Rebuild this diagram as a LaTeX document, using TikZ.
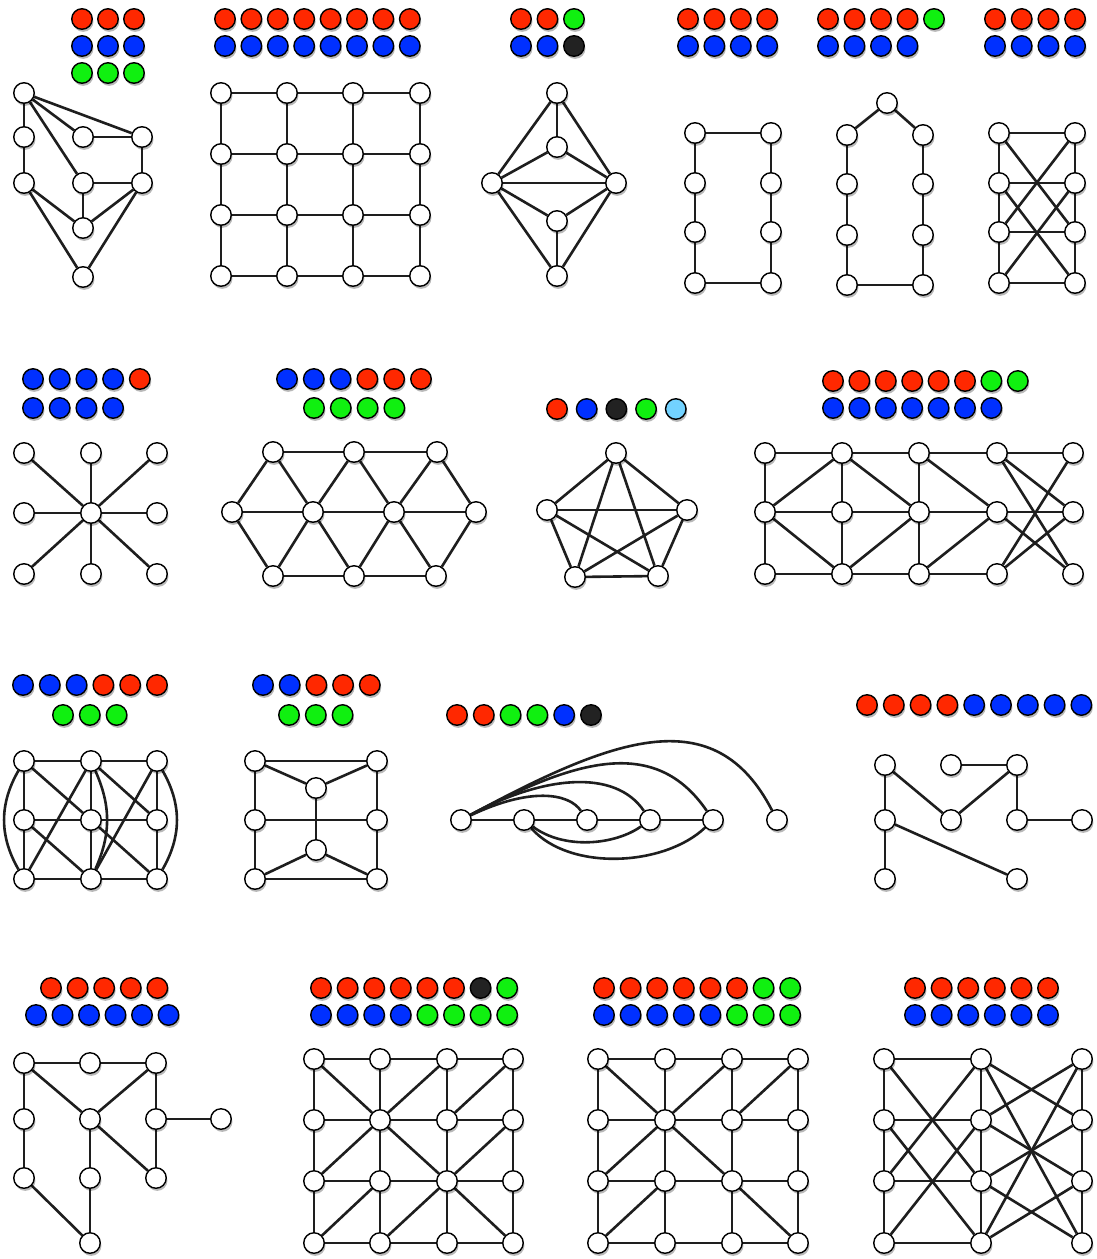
\documentclass[tikz,border=0pt]{standalone}
\usetikzlibrary{shadows,backgrounds}
\definecolor{dred}{HTML}{FF2800}
\definecolor{dblue}{HTML}{0030FF}
\definecolor{dgreen}{HTML}{10F010}
\definecolor{dblack}{HTML}{222222}
\definecolor{dcyan}{HTML}{72D2FF}
\definecolor{lncol}{HTML}{1E1E1E}
\tikzset{
  vtx/.style={circle, draw=black, line width=1.4pt, fill=white, minimum size=20.5pt, inner sep=0pt,
    drop shadow={shadow xshift=1.2pt, shadow yshift=-2.6pt, opacity=0.28, fill=black}},
  cdot/.style={vtx, fill=#1},
  ln/.style={line width=2.6pt, draw=lncol},
}
\newcommand\dotrow[5]{\foreach \c [count=\i from 0] in {#5} \node[cdot=\c] (#1\i) at ({#2+#3*\i},#4) {};}
\begin{document}
\begin{tikzpicture}[x=1pt,y=-1pt]
\useasboundingbox (0,0) rectangle (1096,1259);

% ---------------- G1
\dotrow{A1d}{82}{26}{19}{dred,dred,dred}
\dotrow{A2d}{82}{26}{46}{dblue,dblue,dblue}
\dotrow{A3d}{82}{26}{73}{dgreen,dgreen,dgreen}
\node[vtx] (A1) at (24,93) {};
\node[vtx] (A2) at (24,137) {};
\node[vtx] (A3) at (24,183) {};
\node[vtx] (A4) at (83,137) {};
\node[vtx] (A5) at (142,137) {};
\node[vtx] (A6) at (83,183) {};
\node[vtx] (A7) at (142,183) {};
\node[vtx] (A8) at (83,228) {};
\node[vtx] (A9) at (83,277) {};
\begin{scope}[on background layer]
\foreach \a/\b in {A1/A2,A2/A3,A1/A5,A1/A4,A1/A6,A4/A5,A6/A7,A5/A7,A6/A8,A3/A8,A3/A9,A7/A8,A7/A9}
  \draw[ln] (\a) -- (\b);
\end{scope}

% ---------------- G2 grid
\dotrow{B1d}{225}{26.4}{19}{dred,dred,dred,dred,dred,dred,dred,dred}
\dotrow{B2d}{225}{26.4}{46}{dblue,dblue,dblue,dblue,dblue,dblue,dblue,dblue}
\foreach \c/\x in {1/221,2/287,3/353,4/420}
  \foreach \r/\y in {1/93,2/154,3/215,4/276}
    \node[vtx] (B\r\c) at (\x,\y) {};
\begin{scope}[on background layer]
\foreach \r in {1,2,3,4}
  \foreach \c/\d in {1/2,2/3,3/4} {
    \draw[ln] (B\r\c) -- (B\r\d);
    \draw[ln] (B\c\r) -- (B\d\r);
  }
\end{scope}

% ---------------- G3
\dotrow{C1d}{521}{26.5}{19}{dred,dred,dgreen}
\dotrow{C2d}{521}{26.5}{46}{dblue,dblue,dblack}
\node[vtx] (CT) at (557,93) {};
\node[vtx] (CU) at (557,147) {};
\node[vtx] (CL) at (492,183) {};
\node[vtx] (CR) at (616,183) {};
\node[vtx] (CM) at (557,221) {};
\node[vtx] (CB) at (557,276) {};
\begin{scope}[on background layer]
\foreach \a/\b in {CT/CU,CT/CL,CT/CR,CU/CL,CU/CR,CL/CR,CL/CM,CR/CM,CM/CB,CL/CB,CR/CB}
  \draw[ln] (\a) -- (\b);
\end{scope}

% ---------------- G4
\dotrow{D1d}{688}{26.4}{19}{dred,dred,dred,dred}
\dotrow{D2d}{688}{26.4}{46}{dblue,dblue,dblue,dblue}
\foreach \r/\y in {1/133,2/183,3/232,4/283} {
  \node[vtx] (DL\r) at (695,\y) {};
  \node[vtx] (DR\r) at (771,\y) {};
}
\begin{scope}[on background layer]
\foreach \a/\b in {DL1/DL2,DL2/DL3,DL3/DL4,DL4/DR4,DR4/DR3,DR3/DR2,DR2/DR1,DR1/DL1}
  \draw[ln] (\a) -- (\b);
\end{scope}

% ---------------- G5
\dotrow{E1d}{828}{26.5}{19}{dred,dred,dred,dred,dgreen}
\dotrow{E2d}{828}{26.5}{46}{dblue,dblue,dblue,dblue}
\node[vtx] (EA) at (887,103) {};
\foreach \r/\y in {1/135,2/184,3/235,4/285} {
  \node[vtx] (EL\r) at (847,\y) {};
  \node[vtx] (ER\r) at (923,\y) {};
}
\begin{scope}[on background layer]
\foreach \a/\b in {EA/EL1,EA/ER1,EL1/EL2,EL2/EL3,EL3/EL4,EL4/ER4,ER4/ER3,ER3/ER2,ER2/ER1}
  \draw[ln] (\a) -- (\b);
\end{scope}

% ---------------- G6
\dotrow{F1d}{995}{26.7}{19}{dred,dred,dred,dred}
\dotrow{F2d}{995}{26.7}{46}{dblue,dblue,dblue,dblue}
\foreach \r/\y in {1/133,2/183,3/232,4/283} {
  \node[vtx] (FL\r) at (999,\y) {};
  \node[vtx] (FR\r) at (1075,\y) {};
}
\begin{scope}[on background layer]
\foreach \a/\b in {FL1/FR1,FL2/FR2,FL3/FR3,FL4/FR4,FL1/FL2,FL2/FL3,FL3/FL4,FR1/FR2,FR2/FR3,FR3/FR4,FL1/FR3,FR1/FL3,FL2/FR4,FR2/FL4}
  \draw[ln] (\a) -- (\b);
\end{scope}

% ---------------- G7 star
\dotrow{G1d}{33}{26.7}{379}{dblue,dblue,dblue,dblue,dred}
\dotrow{G2d}{33}{26.7}{408}{dblue,dblue,dblue,dblue}
\node[vtx] (G0) at (91,513) {};
\node[vtx] (G1) at (24,453) {};
\node[vtx] (G2) at (91,453) {};
\node[vtx] (G3) at (157,453) {};
\node[vtx] (G4) at (24,513) {};
\node[vtx] (G5) at (157,513) {};
\node[vtx] (G6) at (24,574) {};
\node[vtx] (G7) at (91,574) {};
\node[vtx] (G8) at (157,574) {};
\begin{scope}[on background layer]
\foreach \b in {G1,G2,G3,G4,G5,G6,G7,G8}
  \draw[ln] (G0) -- (\b);
\end{scope}

% ---------------- G8 triangular
\dotrow{H1d}{287}{26.8}{379}{dblue,dblue,dblue,dred,dred,dred}
\dotrow{H2d}{314}{26.8}{408}{dgreen,dgreen,dgreen,dgreen}
\node[vtx] (Ht1) at (273,452) {};
\node[vtx] (Ht2) at (354,452) {};
\node[vtx] (Ht3) at (437,452) {};
\node[vtx] (Hm1) at (232,512) {};
\node[vtx] (Hm2) at (313,512) {};
\node[vtx] (Hm3) at (394,512) {};
\node[vtx] (Hm4) at (476,512) {};
\node[vtx] (Hb1) at (273,576) {};
\node[vtx] (Hb2) at (354,576) {};
\node[vtx] (Hb3) at (436,576) {};
\begin{scope}[on background layer]
\foreach \a/\b in {Ht1/Ht2,Ht2/Ht3,Hm1/Hm2,Hm2/Hm3,Hm3/Hm4,Hb1/Hb2,Hb2/Hb3,Hm1/Ht1,Hm1/Hb1,Ht1/Hm2,Ht2/Hm2,Ht2/Hm3,Ht3/Hm3,Ht3/Hm4,Hb1/Hm2,Hb2/Hm2,Hb2/Hm3,Hb3/Hm3,Hb3/Hm4}
  \draw[ln] (\a) -- (\b);
\end{scope}

% ---------------- G9 K5
\dotrow{K1d}{557}{29.7}{409}{dred,dblue,dblack,dgreen,dcyan}
\node[vtx] (K1) at (616,453) {};
\node[vtx] (K2) at (547,510) {};
\node[vtx] (K3) at (687,510) {};
\node[vtx] (K4) at (575,577) {};
\node[vtx] (K5) at (658,576) {};
\begin{scope}[on background layer]
\foreach \a/\b in {K1/K2,K1/K3,K1/K4,K1/K5,K2/K3,K2/K4,K2/K5,K3/K4,K3/K5,K4/K5}
  \draw[ln] (\a) -- (\b);
\end{scope}

% ---------------- G10
\dotrow{M1d}{833}{26.4}{381}{dred,dred,dred,dred,dred,dred,dgreen,dgreen}
\dotrow{M2d}{833}{26.4}{408}{dblue,dblue,dblue,dblue,dblue,dblue,dblue}
\foreach \c/\x in {1/765,2/842,3/919,4/997,5/1073} {
  \node[vtx] (Ma\c) at (\x,453) {};
  \node[vtx] (Mb\c) at (\x,512) {};
  \node[vtx] (Mc\c) at (\x,574) {};
}
\begin{scope}[on background layer]
\foreach \a/\b in {Ma1/Ma2,Ma2/Ma3,Ma3/Ma4,Ma4/Ma5,Mb1/Mb2,Mb2/Mb3,Mb3/Mb4,Mb4/Mb5,Mc1/Mc2,Mc2/Mc3,Mc3/Mc4,Ma1/Mb1,Mb1/Mc1,Ma2/Mb2,Mb2/Mc2,Ma3/Mb3,Mb3/Mc3,Mb1/Ma2,Mb1/Mc2,Ma2/Mb3,Mc2/Mb3,Ma3/Mb4,Mc3/Mb4,Ma4/Mb5,Ma4/Mc5,Ma5/Mc4,Mb5/Mc4,Mb4/Mc5}
  \draw[ln] (\a) -- (\b);
\end{scope}

% ---------------- G11
\dotrow{P1d}{23}{26.8}{685}{dblue,dblue,dblue,dred,dred,dred}
\dotrow{P2d}{63}{26.8}{715}{dgreen,dgreen,dgreen}
\foreach \c/\x in {1/24,2/91,3/157}
  \foreach \r/\y in {1/761,2/820,3/879}
    \node[vtx] (P\r\c) at (\x,\y) {};
\begin{scope}[on background layer]
\foreach \a/\b in {P11/P12,P12/P13,P21/P22,P22/P23,P31/P32,P32/P33,P11/P21,P21/P31,P12/P22,P22/P32,P13/P23,P23/P33,P11/P22,P12/P31,P21/P32,P12/P23,P13/P32,P22/P33}
  \draw[ln] (\a) -- (\b);
\draw[ln] (P11) to[bend right=30] (P31);
\draw[ln] (P13) to[bend left=30] (P33);
\draw[ln] (P12) to[bend left=24] (P32);
\end{scope}

% ---------------- G12
\dotrow{Q1d}{263}{26.7}{685}{dblue,dblue,dred,dred,dred}
\dotrow{Q2d}{289}{26.8}{715}{dgreen,dgreen,dgreen}
\node[vtx] (Qtl) at (255,761) {};
\node[vtx] (Qtr) at (377,761) {};
\node[vtx] (Qit) at (316,788) {};
\node[vtx] (Qml) at (255,820) {};
\node[vtx] (Qmr) at (377,820) {};
\node[vtx] (Qib) at (316,850) {};
\node[vtx] (Qbl) at (255,879) {};
\node[vtx] (Qbr) at (377,879) {};
\begin{scope}[on background layer]
\foreach \a/\b in {Qtl/Qtr,Qtl/Qit,Qtr/Qit,Qtl/Qml,Qml/Qbl,Qtr/Qmr,Qmr/Qbr,Qml/Qmr,Qit/Qib,Qib/Qbl,Qib/Qbr,Qbl/Qbr}
  \draw[ln] (\a) -- (\b);
\end{scope}

% ---------------- G13
\dotrow{N1d}{457}{26.8}{715}{dred,dred,dgreen,dgreen,dblue,dblack}
\foreach \i/\x in {1/461,2/524,3/587,4/650,5/713,6/777}
  \node[vtx] (N\i) at (\x,820) {};
\begin{scope}[on background layer]
\foreach \a/\b in {N1/N2,N2/N3,N3/N4,N4/N5}
  \draw[ln] (\a) -- (\b);
\draw[ln] (N1) .. controls (530,787) and (569,793) .. (N3);
\draw[ln] (N1) .. controls (542,776) and (615,768) .. (N4);
\draw[ln] (N1) .. controls (575,760) and (655,735) .. (N5);
\draw[ln] (N1) .. controls (615,737) and (715,700) .. (N6);
\draw[ln] (N2) .. controls (564,850) and (615,845) .. (N4);
\draw[ln] (N2) .. controls (570,872) and (665,866) .. (N5);
\end{scope}

% ---------------- G14
\dotrow{S1d}{867}{26.8}{705}{dred,dred,dred,dred,dblue,dblue,dblue,dblue,dblue}
\node[vtx] (Sa) at (885,765) {};
\node[vtx] (Sb) at (951,765) {};
\node[vtx] (Sc) at (1017,765) {};
\node[vtx] (Sd) at (885,820) {};
\node[vtx] (Se) at (951,820) {};
\node[vtx] (Sf) at (1017,820) {};
\node[vtx] (Sg) at (1082,820) {};
\node[vtx] (Sh) at (885,879) {};
\node[vtx] (Si) at (1017,879) {};
\begin{scope}[on background layer]
\foreach \a/\b in {Sa/Sd,Sa/Se,Sb/Sc,Sc/Se,Sc/Sf,Sf/Sg,Sd/Sh,Sd/Si}
  \draw[ln] (\a) -- (\b);
\end{scope}

% ---------------- G15
\dotrow{T1d}{51}{26.6}{988}{dred,dred,dred,dred,dred}
\dotrow{T2d}{36}{26.5}{1015}{dblue,dblue,dblue,dblue,dblue,dblue}
\node[vtx] (Ta) at (24,1063) {};
\node[vtx] (Tb) at (90,1063) {};
\node[vtx] (Tc) at (156,1063) {};
\node[vtx] (Td) at (24,1119) {};
\node[vtx] (Te) at (90,1119) {};
\node[vtx] (Tf) at (156,1119) {};
\node[vtx] (Tg) at (221,1119) {};
\node[vtx] (Th) at (24,1178) {};
\node[vtx] (Ti) at (90,1178) {};
\node[vtx] (Tj) at (156,1178) {};
\node[vtx] (Tk) at (90,1243) {};
\begin{scope}[on background layer]
\foreach \a/\b in {Ta/Tb,Tb/Tc,Ta/Td,Ta/Te,Tc/Te,Tc/Tf,Tf/Tg,Td/Th,Te/Ti,Te/Tj,Tf/Tj,Th/Tk,Ti/Tk}
  \draw[ln] (\a) -- (\b);
\end{scope}

% ---------------- G16
\dotrow{U1d}{321}{26.6}{988}{dred,dred,dred,dred,dred,dred,dblack,dgreen}
\dotrow{U2d}{321}{26.6}{1015}{dblue,dblue,dblue,dblue,dgreen,dgreen,dgreen,dgreen}
\foreach \c/\x in {1/314,2/380,3/447,4/513}
  \foreach \r/\y in {1/1059,2/1120,3/1181,4/1243}
    \node[vtx] (U\r\c) at (\x,\y) {};
\begin{scope}[on background layer]
\foreach \r in {1,2,3,4}
  \foreach \c/\d in {1/2,2/3,3/4} {
    \draw[ln] (U\r\c) -- (U\r\d);
    \draw[ln] (U\c\r) -- (U\d\r);
  }
\foreach \a/\b in {U11/U22,U13/U22,U14/U23,U22/U31,U22/U33,U24/U33,U32/U41,U33/U42,U33/U44}
  \draw[ln] (\a) -- (\b);
\end{scope}

% ---------------- G17
\dotrow{V1d}{604}{26.6}{988}{dred,dred,dred,dred,dred,dred,dgreen,dgreen}
\dotrow{V2d}{604}{26.6}{1015}{dblue,dblue,dblue,dblue,dblue,dgreen,dgreen,dgreen}
\foreach \c/\x in {1/598,2/665,3/732,4/798}
  \foreach \r/\y in {1/1059,2/1120,3/1181,4/1243}
    \node[vtx] (V\r\c) at (\x,\y) {};
\begin{scope}[on background layer]
\foreach \r in {1,2,3,4}
  \foreach \c/\d in {1/2,2/3,3/4} {
    \draw[ln] (V\r\c) -- (V\r\d);
    \draw[ln] (V\c\r) -- (V\d\r);
  }
\foreach \a/\b in {V11/V22,V13/V22,V14/V23,V22/V31,V22/V33,V32/V41,V33/V44}
  \draw[ln] (\a) -- (\b);
\end{scope}

% ---------------- G18
\dotrow{W1d}{915}{26.6}{988}{dred,dred,dred,dred,dred,dred}
\dotrow{W2d}{915}{26.6}{1015}{dblue,dblue,dblue,dblue,dblue,dblue}
\foreach \r/\y in {1/1059,2/1120,3/1181,4/1243} {
  \node[vtx] (WL\r) at (884,\y) {};
  \node[vtx] (WM\r) at (981,\y) {};
  \node[vtx] (WR\r) at (1082,\y) {};
}
\begin{scope}[on background layer]
\foreach \a/\b in {WL1/WM1,WL2/WM2,WL3/WM3,WL4/WM4,WL1/WL2,WL2/WL3,WL3/WL4,WM1/WM2,WM2/WM3,WM3/WM4,WR1/WR2,WR2/WR3,WR3/WR4,WL1/WM3,WL2/WM4,WM1/WL3,WM2/WL4,WM1/WR4,WM2/WR3,WM3/WR2,WM4/WR1,WM1/WR2,WM2/WR1,WM3/WR4,WM4/WR3}
  \draw[ln] (\a) -- (\b);
\end{scope}

\end{tikzpicture}
\end{document}
